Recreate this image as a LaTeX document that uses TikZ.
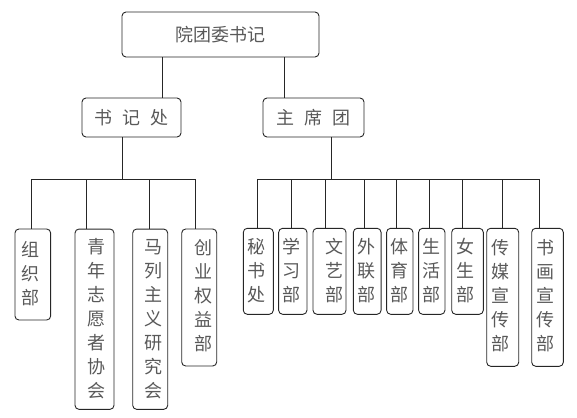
\documentclass[tikz,border=0pt]{standalone}
\usepackage{fontspec}
\newfontfamily\cjk{Noto Sans CJK SC}
\begin{document}
\begin{tikzpicture}[x=1pt,y=-1pt,
  box/.style={draw=black!85, line width=0.9pt, rounded corners=4pt, inner sep=0pt},
  lbl/.style={text=black!65, font=\cjk\fontsize{18}{24}\selectfont, align=center, inner sep=0pt},
  conn/.style={draw=black!85, line width=0.9pt}]
\useasboundingbox (0,0) rectangle (577,417);
% top levels
\node[box, lbl, minimum width=197pt, minimum height=45pt] (top) at (220.5,34.5) {院团委书记};
\node[box, lbl, minimum width=99pt, minimum height=39pt] (sjc) at (131.5,117.5) {书\hspace{10.5pt}记\hspace{10.5pt}处};
\node[box, lbl, minimum width=101pt, minimum height=39pt] (zxt) at (313.5,117.5) {主\hspace{10.5pt}席\hspace{10.5pt}团};
% left boxes
\node[box, minimum width=35.7pt, minimum height=91pt] (b1) at (32.8,274.5) {};
\node[box, minimum width=39pt, minimum height=180.3pt] (b2) at (94.5,319.2) {};
\node[box, minimum width=35pt, minimum height=180.3pt] (b3) at (150.2,319.2) {};
\node[box, minimum width=35pt, minimum height=137pt] (b4) at (199.2,297.5) {};
\node[lbl] (t1) at (30,274) {组\\织\\部};
\node[lbl] (t2) at (96.7,319) {青\\年\\志\\愿\\者\\协\\会};
\node[lbl] (t3) at (153.3,319) {马\\列\\主\\义\\研\\究\\会};
\node[lbl] (t4) at (203.3,296) {创\\业\\权\\益\\部};
% right boxes
\node[box, minimum width=30pt, minimum height=86pt] (r1) at (258.3,271.3) {};
\node[box, minimum width=28.3pt, minimum height=86pt] (r2) at (292.8,271.3) {};
\node[box, minimum width=33pt, minimum height=86pt] (r3) at (329.5,271.3) {};
\node[box, minimum width=27.7pt, minimum height=86pt] (r4) at (367.2,271.3) {};
\node[box, minimum width=26.3pt, minimum height=86pt] (r5) at (399.8,271.3) {};
\node[box, minimum width=26.3pt, minimum height=86pt] (r6) at (431.8,271.3) {};
\node[box, minimum width=31.6pt, minimum height=86pt] (r7) at (467.5,271.3) {};
\node[box, minimum width=32pt, minimum height=138pt] (r8) at (502.7,297.3) {};
\node[box, minimum width=31.6pt, minimum height=138pt] (r9) at (547.5,297.3) {};
\node[lbl] (s1) at (256.7,271) {秘\\书\\处};
\node[lbl] (s2) at (291.7,271) {学\\习\\部};
\node[lbl] (s3) at (334,271) {文\\艺\\部};
\node[lbl] (s4) at (366.7,271) {外\\联\\部};
\node[lbl] (s5) at (399,271) {体\\育\\部};
\node[lbl] (s6) at (431.7,271) {生\\活\\部};
\node[lbl] (s7) at (465,271) {女\\生\\部};
\node[lbl] (s8) at (500,296) {传\\媒\\宣\\传\\部};
\node[lbl] (s9) at (545,296) {书\\画\\宣\\传\\部};
% connectors top
\coordinate (ta) at (162,57);
\coordinate (tb) at (284,57);
\draw[conn] (ta |- top.south) -- (ta |- sjc.north);
\draw[conn] (tb |- top.south) -- (tb |- zxt.north);
% left bus
\coordinate (jl) at (122,179);
\coordinate (dl1) at (31.7,179);
\coordinate (dl2) at (86.7,179);
\coordinate (dl3) at (149.7,179);
\coordinate (dl4) at (195.7,179);
\draw[conn] (jl |- sjc.south) -- (jl);
\draw[conn] (dl1) -- (dl4);
\draw[conn] (dl1) -- (dl1 |- b1.north);
\draw[conn] (dl2) -- (dl2 |- b2.north);
\draw[conn] (dl3) -- (dl3 |- b3.north);
\draw[conn] (dl4) -- (dl4 |- b4.north);
% right bus
\coordinate (jr) at (331,179);
\coordinate (dr1) at (257.3,179);
\coordinate (dr2) at (291.3,179);
\coordinate (dr3) at (325.7,179);
\coordinate (dr4) at (364.3,179);
\coordinate (dr5) at (396,179);
\coordinate (dr6) at (429.3,179);
\coordinate (dr7) at (462.3,179);
\coordinate (dr8) at (502.3,179);
\coordinate (dr9) at (539.3,179);
\draw[conn] (jr |- zxt.south) -- (jr);
\draw[conn] (dr1) -- (dr9);
\draw[conn] (dr1) -- (dr1 |- r1.north);
\draw[conn] (dr2) -- (dr2 |- r2.north);
\draw[conn] (dr3) -- (dr3 |- r3.north);
\draw[conn] (dr4) -- (dr4 |- r4.north);
\draw[conn] (dr5) -- (dr5 |- r5.north);
\draw[conn] (dr6) -- (dr6 |- r6.north);
\draw[conn] (dr7) -- (dr7 |- r7.north);
\draw[conn] (dr8) -- (dr8 |- r8.north);
\draw[conn] (dr9) -- (dr9 |- r9.north);
\end{tikzpicture}
\end{document}
